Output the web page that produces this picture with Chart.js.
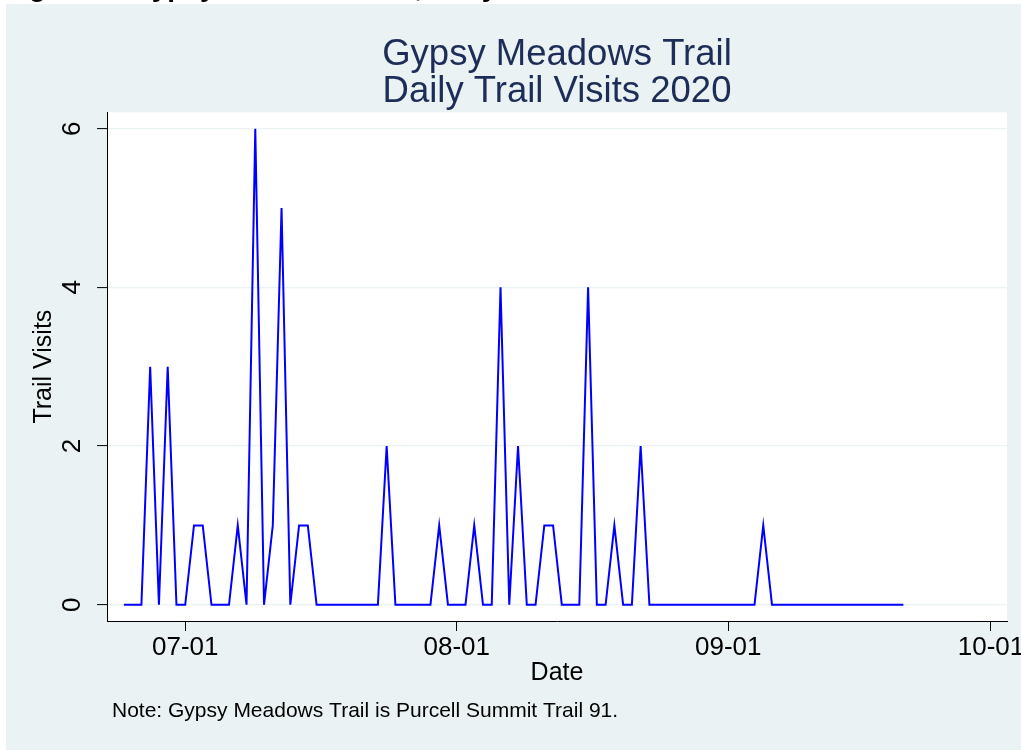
<!DOCTYPE html>
<html>
<head>
<meta charset="utf-8">
<title>Gypsy Meadows Trail - Daily Trail Visits 2020</title>
<script src="https://cdn.jsdelivr.net/npm/chart.js@4.4.1/dist/chart.umd.min.js"></script>
<style>
  html, body { margin: 0; padding: 0; background: #fff; }
  #chart { display: block; }
</style>
</head>
<body>
<canvas id="chart" width="1021" height="751"></canvas>
<script>
// ---- data (daily counts, 2020-06-24 .. 2020-09-21) ----
const firstDate = '2020-06-24';
const visits = [
  0, 0, 0, 3, 0, 3, 0,                 // Jun 24-30
  0, 1, 1, 0, 0, 0, 1, 0, 6, 0,        // Jul 1-10
  1, 5, 0, 1, 1, 0, 0, 0, 0, 0,        // Jul 11-20
  0, 0, 0, 2, 0, 0, 0, 0, 0, 1, 0,     // Jul 21-31
  0, 0, 1, 0, 0, 4, 0, 2, 0, 0,        // Aug 1-10
  1, 1, 0, 0, 0, 4, 0, 0, 1, 0,        // Aug 11-20
  0, 2, 0, 0, 0, 0, 0, 0, 0, 0, 0,     // Aug 21-31
  0, 0, 0, 0, 1, 0, 0, 0, 0, 0,        // Sep 1-10
  0, 0, 0, 0, 0, 0, 0, 0, 0, 0, 0      // Sep 11-21
];
const xTickDates = ['2020-07-01', '2020-08-01', '2020-09-01', '2020-10-01'];
const xTickLabels = ['07-01', '08-01', '09-01', '10-01'];
const yTicks = [0, 2, 4, 6];

const titleLines = ['Gypsy Meadows Trail', 'Daily Trail Visits 2020'];
const noteText = 'Note: Gypsy Meadows Trail is Purcell Summit Trail 91.';
const headerText = 'Figure 4: Gypsy Meadows Trail, Daily Visits';

// ---- style ----
const FONT = '"Liberation Sans", Arial, sans-serif';
const PANEL = '#eaf2f3';
const NAVY = '#1e2d58';
const LINE = '#0000ff';

// days counted from 2020-07-01
function dayNum(s) {
  const [y, m, d] = s.split('-').map(Number);
  return (Date.UTC(y, m - 1, d) - Date.UTC(2020, 6, 1)) / 864e5;
}
const start = dayNum(firstDate);
const points = visits.map((v, i) => ({ x: start + i, y: v }));
const xTickDays = xTickDates.map(dayNum);

const backdrop = {
  id: 'backdrop',
  beforeDraw(chart) {
    const { ctx, chartArea: a, width, height } = chart;
    ctx.save();
    ctx.fillStyle = '#fff';
    ctx.fillRect(0, 0, width, height);
    ctx.fillStyle = PANEL;
    ctx.fillRect(6, 4, width - 6, height - 5);
    ctx.fillStyle = '#fff';
    ctx.fillRect(a.left, a.top, a.right - a.left, a.bottom - a.top);
    // header of the page, mostly cut off at the top edge
    ctx.fillStyle = '#000';
    ctx.font = 'bold 28px ' + FONT;
    ctx.textBaseline = 'alphabetic';
    ctx.fillText(headerText, 4, -4);
    ctx.restore();
  },
  afterDraw(chart) {
    const { ctx } = chart;
    ctx.save();
    ctx.fillStyle = '#000';
    ctx.font = '21px ' + FONT;
    ctx.textBaseline = 'alphabetic';
    ctx.textAlign = 'left';
    ctx.fillText(noteText, 112, 717);
    ctx.restore();
  }
};

Chart.defaults.font.family = FONT;

new Chart(document.getElementById('chart'), {
  type: 'line',
  data: {
    datasets: [{
      label: 'Trail Visits',
      data: points,
      borderColor: LINE,
      borderWidth: 2,
      pointRadius: 0,
      fill: false,
      tension: 0
    }]
  },
  options: {
    responsive: false,
    animation: false,
    events: [],
    layout: { padding: { left: 0, right: 14, top: 0, bottom: 0 } },
    plugins: {
      legend: { display: false },
      tooltip: { enabled: false },
      title: {
        display: true,
        text: titleLines,
        fullSize: false,
        color: NAVY,
        font: { size: 36.5, weight: 'normal', lineHeight: 1.02 },
        padding: { top: 36, bottom: 1.8 }
      }
    },
    scales: {
      x: {
        type: 'linear',
        min: -8.93,
        max: 93.83,
        afterBuildTicks: s => { s.ticks = xTickDays.map(v => ({ value: v })); },
        afterFit: s => { s.height = 130; s.paddingLeft = 0; s.paddingRight = 0; },
        ticks: {
          autoSkip: false,
          maxRotation: 0,
          minRotation: 0,
          padding: 1,
          color: '#000',
          font: { size: 26 },
          callback: v => xTickLabels[xTickDays.indexOf(v)]
        },
        grid: { drawOnChartArea: false, drawTicks: true, tickLength: 10, tickColor: '#000', tickWidth: 1 },
        border: { display: true, color: '#000', width: 1 },
        title: {
          display: true,
          text: 'Date',
          color: '#000',
          font: { size: 25 },
          padding: { top: 0, bottom: 63 }
        }
      },
      y: {
        type: 'linear',
        min: -0.205,
        max: 6.207,
        afterBuildTicks: s => { s.ticks = yTicks.map(v => ({ value: v })); },
        afterFit: s => { s.width = 107; s.paddingTop = 0; s.paddingBottom = 0; },
        ticks: {
          minRotation: 90,
          maxRotation: 90,
          crossAlign: 'center',
          padding: 17,
          color: '#000',
          font: { size: 26 }
        },
        grid: { color: PANEL, lineWidth: 1.2, drawTicks: true, tickLength: 10, tickColor: '#000', tickWidth: 1 },
        border: { display: true, color: '#000', width: 1 },
        title: {
          display: true,
          text: 'Trail Visits',
          color: '#000',
          font: { size: 25 },
          padding: { top: 29, bottom: 0 }
        }
      }
    }
  },
  plugins: [backdrop]
});
</script>
</body>
</html>
